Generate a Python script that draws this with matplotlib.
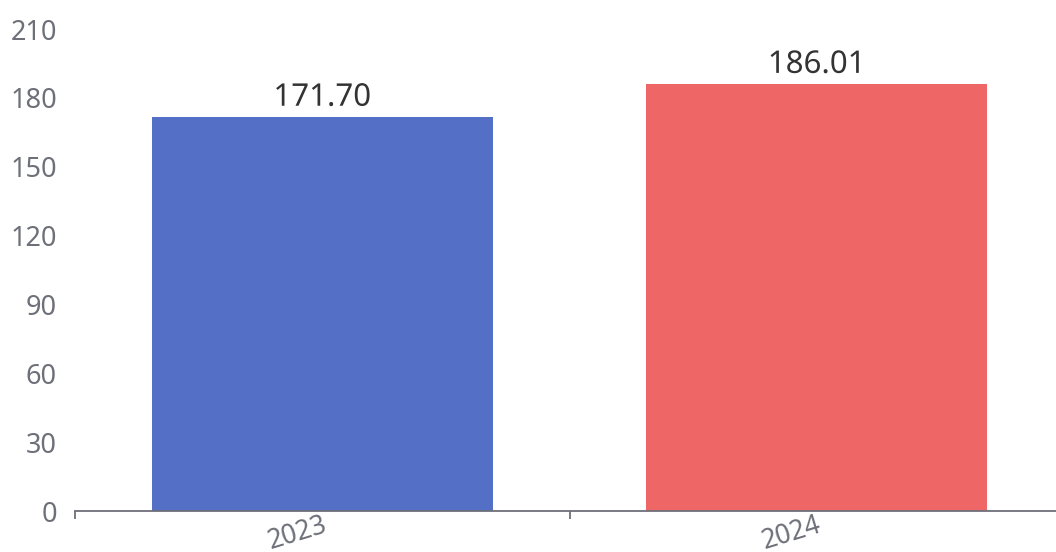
import matplotlib.pyplot as plt
import matplotlib.patheffects as pe

plt.rcParams['font.family'] = ['Noto Sans', 'DejaVu Sans']

years = ['2023', '2024']
values = [171.70, 186.01]
colors = ['#5470c6', '#ee6666']
y_ticks = [0, 30, 60, 90, 120, 150, 180, 210]

fig = plt.figure(figsize=(10.56, 5.52), dpi=100)
# axes run a little past the right edge, like the original
ax = fig.add_axes([75 / 1056, 1 - 511 / 552, 989 / 1056, (511 - 29) / 552])

x = list(range(len(years)))
bars = ax.bar(x, values, width=0.69, color=colors, zorder=2)

for b, v in zip(bars, values):
    ax.annotate('%.2f' % v, (b.get_x() + b.get_width() / 2, v),
                xytext=(0, 3), textcoords='offset points',
                ha='center', va='bottom', fontsize=22.5, color='#333333',
                path_effects=[pe.withStroke(linewidth=2.5, foreground='white')])

ax.set_xlim(-0.5, len(years) - 0.5)
ax.set_ylim(0, 210)
ax.set_yticks(y_ticks)
ax.tick_params(axis='y', length=0, pad=13, labelsize=19.5, labelcolor='#6e7079')

# boundary ticks between categories, labels in the middle
ax.set_xticks([i - 0.5 for i in range(len(years) + 1)])
ax.set_xticklabels([])
ax.set_xticks(x, minor=True)
ax.set_xticklabels(years, minor=True, rotation=17, fontsize=19, color='#6e7079')
plt.setp(ax.get_xticklabels(minor=True), ha='right', rotation_mode='anchor')
ax.tick_params(axis='x', which='major', length=6, width=1.3, color='#6e7079', direction='out')
ax.tick_params(axis='x', which='minor', length=0, pad=0)

for s in ['top', 'right', 'left']:
    ax.spines[s].set_visible(False)
ax.spines['bottom'].set_color('#6e7079')
ax.spines['bottom'].set_linewidth(1.3)
ax.spines['bottom'].set_zorder(3)

fig.savefig('out.png', dpi=100)
